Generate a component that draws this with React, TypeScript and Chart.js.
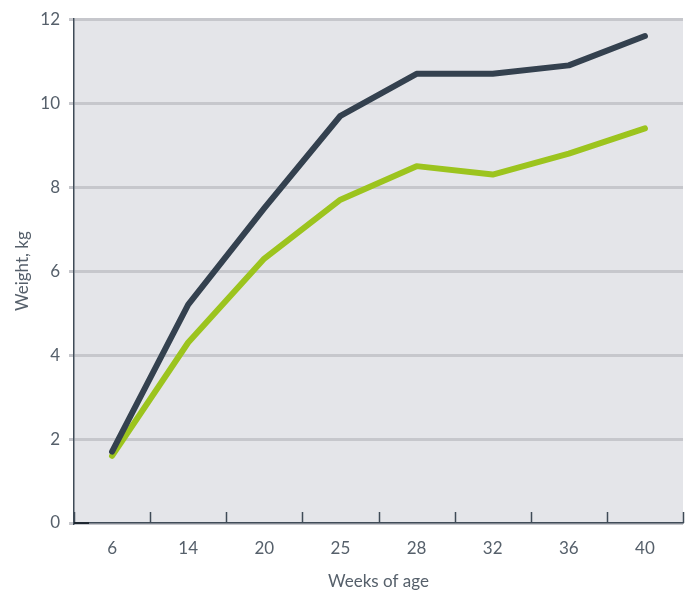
import React, { useEffect, useRef } from "react";
import { Chart, registerables } from "chart.js";

Chart.register(...registerables);

const weeks = ["6", "14", "20", "25", "28", "32", "36", "40"];
const seriesDark = [1.7, 5.2, 7.5, 9.7, 10.7, 10.7, 10.9, 11.6];
const seriesGreen = [1.6, 4.3, 6.3, 7.7, 8.5, 8.3, 8.8, 9.4];
const yTicks = [0, 2, 4, 6, 8, 10, 12];

const FONT = "Lato, 'Open Sans', sans-serif";
const TEXT = "#56606b";
const AXIS = "#3f4b57";

const bgPlugin = {
  id: "bgPlugin",
  beforeDraw(chart: any) {
    const { ctx, chartArea } = chart;
    ctx.save();
    ctx.fillStyle = "#e4e5e9";
    ctx.fillRect(chartArea.left, chartArea.top, chartArea.right - chartArea.left, chartArea.bottom - chartArea.top);
    ctx.restore();
  },
  afterDraw(chart: any) {
    const { ctx, chartArea } = chart;
    const x = chart.scales.x;
    ctx.save();
    ctx.strokeStyle = AXIS;
    ctx.lineWidth = 1.5;
    for (let i = 0; i <= weeks.length; i++) {
      const px = Math.round(x.getPixelForValue(i - 0.5)) + 0.5;
      ctx.beginPath();
      ctx.moveTo(px, chartArea.bottom);
      ctx.lineTo(px, chartArea.bottom - 11);
      ctx.stroke();
    }
    ctx.strokeStyle = "#1e2730";
    ctx.lineWidth = 2;
    ctx.beginPath();
    ctx.moveTo(chartArea.left, chartArea.bottom);
    ctx.lineTo(chartArea.left + 15, chartArea.bottom);
    ctx.stroke();
    ctx.restore();
  },
};

export default function App() {
  const ref = useRef<HTMLCanvasElement>(null);
  useEffect(() => {
    document.body.style.margin = "0";
    const chart = new Chart(ref.current!, {
      type: "line",
      data: {
        labels: weeks,
        datasets: [
          {
            data: seriesDark,
            borderColor: "#34414f",
            borderWidth: 6,
            pointRadius: 0,
            borderCapStyle: "round",
            borderJoinStyle: "round",
            tension: 0,
          },
          {
            data: seriesGreen,
            borderColor: "#9cc41e",
            borderWidth: 6,
            pointRadius: 0,
            borderCapStyle: "round",
            borderJoinStyle: "round",
            tension: 0,
          },
        ],
      },
      options: {
        animation: false,
        responsive: false,
        maintainAspectRatio: false,
        layout: { padding: { top: 15, right: 3, left: 0, bottom: 0 } },
        plugins: { legend: { display: false }, tooltip: { enabled: false } },
        scales: {
          x: {
            type: "category",
            offset: true,
            grid: { display: false, drawTicks: false },
            border: { display: true, color: AXIS, width: 1.5 },
            ticks: { color: TEXT, font: { family: FONT, size: 17 }, padding: 15 },
            title: {
              display: true,
              text: "Weeks of age",
              color: TEXT,
              font: { family: FONT, size: 17 },
              padding: { top: 9, bottom: 0 },
            },
            afterFit(scale: any) {
              scale.height = 69;
            },
          },
          y: {
            min: 0,
            max: 12,
            afterBuildTicks(scale: any) {
              scale.ticks = yTicks.map((v) => ({ value: v }));
            },
            grid: { color: "#c6c7cc", lineWidth: 3, tickLength: 5, tickColor: "#c6c7cc" },
            border: { display: true, color: AXIS, width: 1.5 },
            ticks: { color: TEXT, font: { family: FONT, size: 17 }, padding: 9 },
            title: {
              display: true,
              text: "Weight, kg",
              color: TEXT,
              font: { family: FONT, size: 17 },
              padding: { top: 12, bottom: 0 },
            },
            afterFit(scale: any) {
              scale.width = 74;
            },
          },
        },
      },
      plugins: [bgPlugin],
    });
    return () => chart.destroy();
  }, []);
  return <canvas ref={ref} width={686} height={592} style={{ display: "block" }} />;
}
